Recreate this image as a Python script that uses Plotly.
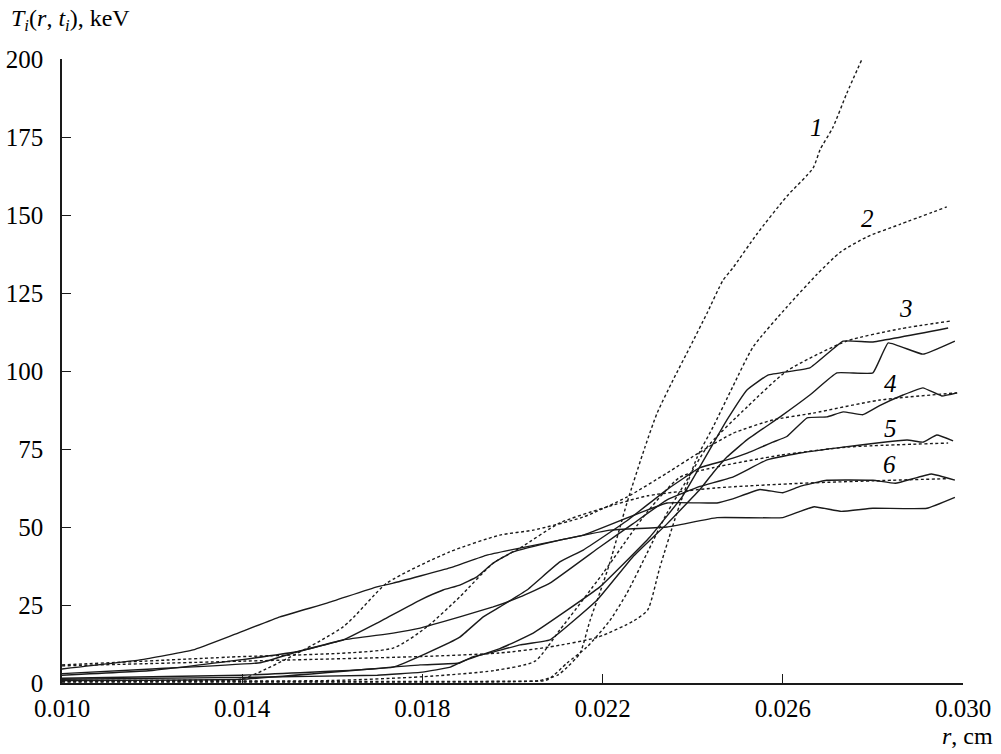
import plotly.graph_objects as go

# ---- dotted (calculated) curves 1..6 : r [cm], T [keV]
d1_r = [0.0100, 0.0150, 0.0200, 0.0206, 0.0210, 0.02121, 0.0215, 0.02172, 0.02194, 0.02216, 0.02254, 0.02294, 0.02321, 0.02356, 0.02394, 0.02432, 0.02467, 0.02489, 0.02543, 0.02609, 0.02667, 0.02683, 0.02711, 0.02742, 0.02776]
d1_T = [0.3, 0.3, 0.4, 0.8, 2.5, 5.0, 9.6, 20.0, 29.0, 38.5, 57.7, 75.6, 86.5, 97.0, 107.7, 118.6, 129.0, 133.0, 144.0, 156.0, 165.0, 171.0, 178.0, 189.0, 200.0]

d2_r = [0.0100, 0.0140, 0.0180, 0.0197, 0.0208, 0.0219, 0.0227, 0.0230, 0.02327, 0.02365, 0.02410, 0.02445, 0.02489, 0.02534, 0.02609, 0.02676, 0.02727, 0.02787, 0.0286, 0.02964]
d2_T = [5.5, 7.0, 8.5, 9.6, 11.5, 14.7, 20.0, 23.4, 37.0, 54.5, 72.4, 82.0, 95.0, 107.7, 120.5, 131.0, 138.0, 143.0, 147.0, 152.6]

d3_r = [0.0100, 0.0150, 0.0200, 0.02077, 0.02121, 0.02165, 0.02216, 0.02254, 0.02299, 0.02343, 0.02387, 0.02432, 0.02521, 0.02609, 0.02742, 0.02860, 0.02971]
d3_T = [0.5, 0.5, 0.6, 1.0, 6.4, 11.5, 20.0, 28.8, 41.7, 54.5, 65.0, 75.6, 88.5, 100.0, 109.6, 113.5, 116.0]

d4_r = [0.0100, 0.0130, 0.0140, 0.01624, 0.01721, 0.01860, 0.01972, 0.02046, 0.02157, 0.02254, 0.02343, 0.02416, 0.02489, 0.02578, 0.02667, 0.02816, 0.02987]
d4_T = [0.8, 0.9, 1.3, 18.0, 32.0, 42.0, 47.4, 49.0, 53.2, 59.6, 67.3, 74.0, 80.0, 84.3, 86.5, 90.7, 93.0]

d5_r = [0.0100, 0.0160, 0.0180, 0.0196, 0.0205, 0.02105, 0.0220, 0.02300, 0.02372, 0.02445, 0.02594, 0.02742, 0.02967]
d5_T = [0.7, 0.8, 2.0, 4.0, 7.0, 17.0, 35.0, 55.0, 66.0, 69.0, 73.0, 75.6, 76.9]

d6_r = [0.0100, 0.0137, 0.01735, 0.0181, 0.01883, 0.01957, 0.02017, 0.02105, 0.0220, 0.0230, 0.02450, 0.02638, 0.0280, 0.02967]
d6_T = [5.8, 8.3, 11.2, 18.0, 27.6, 38.4, 43.3, 51.3, 56.0, 60.0, 62.5, 64.0, 64.8, 65.5]

# ---- solid (measured) curves
sa_r = [0.0100, 0.0140, 0.0170, 0.0180, 0.0186, 0.0189, 0.0193, 0.01972, 0.02046, 0.02194, 0.02305, 0.02378, 0.02476, 0.02521, 0.02567, 0.02660, 0.02734, 0.02798, 0.02967]
sa_T = [1.2, 1.8, 2.5, 3.5, 5.0, 7.0, 9.0, 11.0, 16.0, 30.8, 46.8, 60.0, 84.3, 94.0, 98.7, 101.0, 109.6, 109.3, 113.8]

sb_r = [0.0100, 0.0140, 0.01795, 0.01883, 0.0191, 0.01957, 0.02017, 0.02083, 0.02188, 0.02267, 0.02343, 0.02416, 0.02445, 0.02476, 0.02521, 0.02594, 0.0266, 0.0272, 0.0280, 0.02834, 0.02911, 0.02982]
sb_T = [0.8, 1.2, 5.8, 6.4, 8.3, 9.9, 12.2, 13.8, 26.6, 40.4, 51.0, 62.0, 67.3, 72.4, 78.0, 85.3, 92.3, 99.4, 99.4, 109.0, 105.4, 109.6]

sc_r = [0.0100, 0.0140, 0.01735, 0.0181, 0.01883, 0.01935, 0.01972, 0.02032, 0.02105, 0.02157, 0.02254, 0.02343, 0.02416, 0.02476, 0.02521, 0.02578, 0.02609, 0.02654, 0.02698, 0.02734, 0.02778, 0.02816, 0.02867, 0.02911, 0.02953, 0.02987]
sc_T = [1.5, 2.5, 5.1, 9.6, 14.7, 21.2, 24.4, 29.8, 38.8, 42.6, 52.0, 62.0, 69.0, 71.5, 73.7, 77.2, 79.0, 85.0, 85.3, 86.9, 86.0, 89.0, 92.3, 94.6, 92.0, 93.0]

sd_r = [0.0100, 0.0120, 0.0140, 0.0152, 0.01624, 0.01735, 0.01795, 0.01883, 0.01957, 0.02017, 0.02083, 0.02194, 0.02267, 0.02343, 0.02416, 0.02489, 0.02565, 0.02638, 0.02734, 0.02876, 0.02911, 0.02942, 0.02978]
sd_T = [2.5, 4.0, 7.5, 10.0, 13.8, 16.0, 17.6, 21.2, 24.4, 27.6, 32.0, 43.6, 51.0, 58.7, 63.0, 66.0, 71.5, 73.7, 75.6, 77.9, 77.2, 79.5, 77.6]

se_r = [0.0100, 0.0120, 0.0144, 0.01513, 0.01624, 0.01699, 0.01795, 0.01846, 0.01883, 0.01921, 0.01957, 0.02001, 0.02105, 0.02157, 0.02343, 0.02454, 0.02489, 0.02549, 0.0260, 0.02638, 0.02698, 0.0280, 0.0285, 0.0293, 0.02982]
se_T = [3.0, 4.5, 6.5, 9.6, 13.8, 19.2, 26.6, 29.8, 31.4, 34.0, 38.4, 42.0, 45.8, 47.4, 57.7, 57.7, 59.0, 62.0, 61.0, 63.0, 65.0, 65.0, 64.0, 67.0, 65.0]

sf_r = [0.0100, 0.01173, 0.01291, 0.0138, 0.01484, 0.01588, 0.01699, 0.01735, 0.01861, 0.01943, 0.01994, 0.02105, 0.02216, 0.02343, 0.02454, 0.0260, 0.02638, 0.0267, 0.0273, 0.0280, 0.0292, 0.02982]
sf_T = [4.5, 7.4, 10.6, 15.4, 21.2, 25.6, 30.8, 32.0, 36.9, 41.0, 42.6, 45.8, 49.0, 50.0, 53.0, 53.0, 55.0, 56.5, 55.0, 56.0, 56.0, 59.5]

curve_labels = ["1", "2", "3", "4", "5", "6"]
label_r = [0.02674, 0.02787, 0.02874, 0.02840, 0.02840, 0.02836]
label_T = [178.0, 149.0, 120.0, 96.0, 81.5, 70.0]

x_ticks = [0.010, 0.014, 0.018, 0.022, 0.026, 0.030]
x_tick_text = ["0.010", "0.014", "0.018", "0.022", "0.026", "0.030"]
y_ticks = [0, 25, 50, 75, 100, 125, 150, 175, 200]

FONT = "Times New Roman, Liberation Serif, DejaVu Serif, serif"
INK = "#1a1a1a"

fig = go.Figure()
dotted = [(d1_r, d1_T), (d2_r, d2_T), (d3_r, d3_T), (d4_r, d4_T), (d5_r, d5_T), (d6_r, d6_T)]
solid = [(sa_r, sa_T), (sb_r, sb_T), (sc_r, sc_T), (sd_r, sd_T), (se_r, se_T), (sf_r, sf_T)]
for r, T in dotted:
    fig.add_trace(go.Scatter(x=r, y=T, mode="lines",
                             line=dict(color=INK, width=1.4, dash="3px,2.5px", shape="spline", smoothing=0.6),
                             hoverinfo="skip", showlegend=False))
for r, T in solid:
    fig.add_trace(go.Scatter(x=r, y=T, mode="lines",
                             line=dict(color=INK, width=1.4, shape="spline", smoothing=0.3),
                             hoverinfo="skip", showlegend=False))

for txt, lx, ly in zip(curve_labels, label_r, label_T):
    fig.add_annotation(x=lx, y=ly, text="<i>" + txt + "</i>", showarrow=False,
                       font=dict(family=FONT, size=25, color="black"))

fig.add_annotation(xref="paper", yref="paper", x=-0.0585, y=1.035, xanchor="left", yanchor="bottom",
                   text="<i>T</i><sub><i>i</i></sub>(<i>r</i>, <i>t</i><sub><i>i</i></sub>), keV",
                   showarrow=False, font=dict(family=FONT, size=24, color="black"))
fig.add_annotation(xref="paper", yref="paper", x=1.0355, y=-0.085, xanchor="right", yanchor="middle",
                   text="<i>r</i>, cm", showarrow=False, font=dict(family=FONT, size=24, color="black"))

fig.update_layout(
    width=1001, height=754,
    margin=dict(l=62, r=38, t=59, b=71, autoexpand=False),
    paper_bgcolor="white", plot_bgcolor="white",
    font=dict(family=FONT, size=25, color="black"),
    xaxis=dict(range=[0.010, 0.030], tickvals=x_ticks, ticktext=x_tick_text, automargin=False,
               showgrid=False, zeroline=False, showline=True, linecolor=INK, linewidth=1.5,
               ticks="inside", ticklen=9, tickwidth=1.3, tickcolor=INK, mirror=False,
               ticklabelstandoff=2),
    yaxis=dict(range=[0, 200], tickvals=y_ticks, automargin=False,
               showgrid=False, zeroline=False, showline=True, linecolor=INK, linewidth=1.5,
               ticks="inside", ticklen=9, tickwidth=1.3, tickcolor=INK, ticklabelstandoff=12),
)

fig.write_html("out.html")
